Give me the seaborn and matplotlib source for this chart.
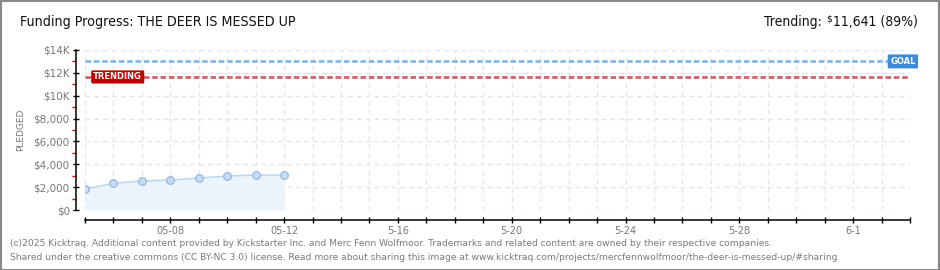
import matplotlib
matplotlib.use("Agg")
import matplotlib.pyplot as plt
from matplotlib.patches import Rectangle
import seaborn as sns
import pandas as pd
import numpy as np

# ---- data ----
dates = ["2025-05-05", "2025-05-06", "2025-05-07", "2025-05-08",
         "2025-05-09", "2025-05-10", "2025-05-11", "2025-05-12"]
pledged = [1840, 2330, 2540, 2620, 2800, 2970, 3060, 3060]
goal = 13000
trending = 11641
x_start, x_end = "2025-05-05", "2025-06-03"
xtick_label_dates = ["2025-05-08", "2025-05-12", "2025-05-16", "2025-05-20",
                     "2025-05-24", "2025-05-28", "2025-06-01"]
xtick_labels = ["05-08", "05-12", "5-16", "5-20", "5-24", "5-28", "6-1"]
ytick_values = [0, 2000, 4000, 6000, 8000, 10000, 12000, 14000]
ytick_labels = ["$0", "$2,000", "$4,000", "$6,000", "$8,000", "$10K", "$12K", "$14K"]
title = "Funding Progress: THE DEER IS MESSED UP"
trend_label = "Trending:"
trend_value = "11,641 (89%)"
footer1 = ("(c)2025 Kicktraq. Additional content provided by Kickstarter Inc. and Merc Fenn Wolfmoor. "
           "Trademarks and related content are owned by their respective companies.")
footer2 = ("Shared under the creative commons (CC BY-NC 3.0) license. Read more about sharing this image at "
           "www.kicktraq.com/projects/mercfennwolfmoor/the-deer-is-messed-up/#sharing")

df = pd.DataFrame({"date": pd.to_datetime(dates), "pledged": pledged})

sns.set_style("white")
plt.rcParams["text.parse_math"] = False
plt.rcParams["font.family"] = ["DejaVu Sans"]

W, H = 940, 270
fig = plt.figure(figsize=(W / 100, H / 100), dpi=100)
ax = fig.add_axes([85 / W, (H - 210) / H, 825 / W, 160 / H])

# fill and line
ax.fill_between(df["date"], df["pledged"], 0, color="#ebf3fc", zorder=1, linewidth=0)
sns.lineplot(data=df, x="date", y="pledged", ax=ax, color="#b9d5f2", linewidth=1.1,
             marker="o", markersize=5.5, markerfacecolor="#c6ddf6",
             markeredgecolor="#8fb2da", markeredgewidth=0.8, zorder=4)

# goal and trending lines
ax.axhline(goal, color="#86b7e8", linewidth=2.0, linestyle=(0, (2.0, 1.0)), zorder=3)
ax.axhline(trending, color="#d06464", linewidth=2.0, linestyle=(0, (2.0, 1.0)), zorder=3)

ax.set_xlim(pd.Timestamp(x_start), pd.Timestamp(x_end))
ax.set_ylim(0, 14000)

# x ticks: every day, labels every four days
all_days = pd.date_range(x_start, x_end, freq="D")
lab_map = dict(zip(pd.to_datetime(xtick_label_dates), xtick_labels))
ax.set_xticks(all_days)
ax.set_xticklabels([lab_map.get(d, "") for d in all_days])
ax.set_yticks(ytick_values)
ax.set_yticklabels(ytick_labels)
ax.set_yticks(np.arange(1000, 14000, 2000), minor=True)

ax.tick_params(axis="x", which="major", bottom=True, direction="inout", length=5, width=1,
               color="black", labelsize=7, labelcolor="#777777", pad=2)
ax.tick_params(axis="y", which="major", left=True, direction="inout", length=5, width=1,
               color="black", labelsize=7.5, labelcolor="#777777", pad=2)
ax.tick_params(axis="y", which="minor", left=True, direction="out", length=3, width=1,
               color="#dd0000")

ax.grid(True, which="major", axis="both", color="#e6e6e6", linestyle=(0, (4, 3)), linewidth=0.9)
ax.set_axisbelow(True)

for s in ["top", "right"]:
    ax.spines[s].set_visible(False)
ax.spines["left"].set_position(("outward", 9 * 0.72))
ax.spines["bottom"].set_position(("outward", 10 * 0.72))
ax.spines["left"].set_color("black")
ax.spines["bottom"].set_color("black")
ax.spines["left"].set_linewidth(1.1)
ax.spines["bottom"].set_linewidth(1.1)

ax.set_xlabel("")
ax.set_ylabel("PLEDGED", fontsize=6.5, color="#777777", labelpad=6)

# badges
ax.text(pd.Timestamp("2025-05-05") + pd.Timedelta(hours=7), trending, "TRENDING",
        fontsize=6, color="white", fontweight="bold", va="center", ha="left", zorder=6,
        bbox=dict(boxstyle="round,pad=0.25,rounding_size=0.15", fc="#c00000", ec="none"))
ax.text(pd.Timestamp("2025-06-02") + pd.Timedelta(hours=18), goal, "GOAL",
        fontsize=6, color="white", fontweight="bold", va="center", ha="center", zorder=6,
        bbox=dict(boxstyle="round,pad=0.3,rounding_size=0.15", fc="#3d8bd8", ec="none"))

# header texts
fig.text(20 / W, 1 - 22 / H, title, fontsize=10.2, color="#111111", va="center", ha="left",
         fontstretch="condensed")
val = fig.text(918 / W, 1 - 22 / H, trend_value, fontsize=10, color="#111111",
               va="center", ha="right", fontstretch="condensed")
ax.annotate("$", xy=(0, 1.0), xycoords=val, xytext=(-0.5, 0.5), textcoords="offset points",
            fontsize=6.5, color="#111111", ha="right", va="top", annotation_clip=False)
ax.annotate(trend_label, xy=(0, 0.5), xycoords=val, xytext=(-8, 0), textcoords="offset points",
            fontsize=10, color="#111111", ha="right", va="center", fontstretch="condensed",
            annotation_clip=False)

# footer
fig.text(10 / W, 1 - 243 / H, footer1, fontsize=6.6, color="#7a7a7a", va="center", ha="left")
fig.text(10 / W, 1 - 257 / H, footer2, fontsize=6.6, color="#7a7a7a", va="center", ha="left")

# border
fig.patches.append(Rectangle((0.5 / W, 0.5 / H), 1 - 1.5 / W, 1 - 1.5 / H, transform=fig.transFigure,
                             fill=False, ec="#888888", lw=1.5))

fig.savefig("out.png", dpi=100)
